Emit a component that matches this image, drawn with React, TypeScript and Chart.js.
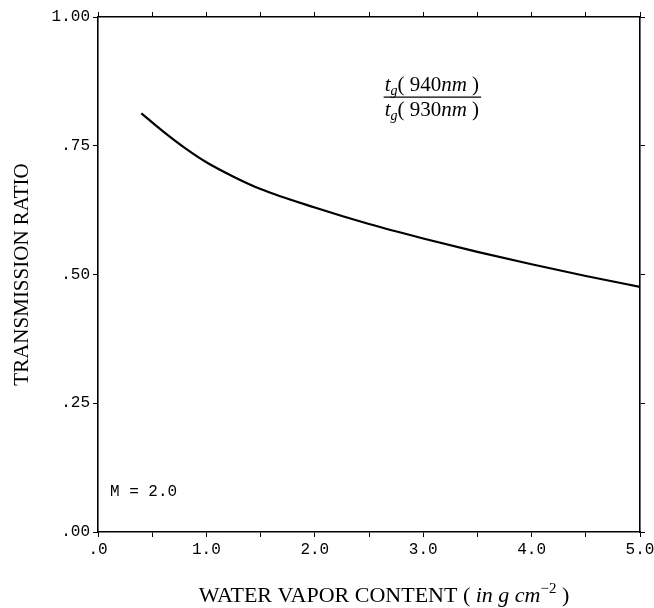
import React, { useEffect, useRef } from 'react';
import { Chart, registerables } from 'chart.js';

Chart.register(...registerables);

// Data
const waterVapor = [0.4, 0.6, 0.8, 1.0, 1.25, 1.5, 2.0, 2.5, 3.0, 3.5, 4.0, 4.5, 5.0];
const transmissionRatio = [0.813, 0.778, 0.746, 0.718, 0.69, 0.666, 0.63, 0.598, 0.57, 0.544, 0.52, 0.497, 0.476];

const xMin = 0;
const xMax = 5;
const xStep = 0.5;
const yMin = 0;
const yMax = 1;
const yStep = 0.25;

const yTitle = 'TRANSMISSION RATIO';
const airMassLabel = 'M = 2.0';

const SERIF = "'Liberation Serif', 'Times New Roman', serif";
const MONO = "'Liberation Mono', 'Courier New', monospace";

const fmtX = (v: number) => (v === 0 ? '.0' : v.toFixed(1));
const fmtY = (v: number) => (v === 1 ? '1.00' : v.toFixed(2).replace(/^0/, ''));

type Piece = { text: string; font: string; dy?: number };

function drawRich(ctx: CanvasRenderingContext2D, pieces: Piece[], cx: number, baseline: number) {
  let total = 0;
  for (const p of pieces) {
    ctx.font = p.font;
    total += ctx.measureText(p.text).width;
  }
  let x = cx - total / 2;
  for (const p of pieces) {
    ctx.font = p.font;
    ctx.fillText(p.text, x, baseline + (p.dy || 0));
    x += ctx.measureText(p.text).width;
  }
  return { left: cx - total / 2, right: cx + total / 2 };
}

const annotations = {
  id: 'annotations',
  afterDraw(chart: any) {
    const { ctx, chartArea, scales } = chart;
    const xs = scales.x;
    const ys = scales.y;
    ctx.save();
    ctx.fillStyle = '#000';
    ctx.strokeStyle = '#000';
    ctx.textAlign = 'left';
    ctx.textBaseline = 'alphabetic';

    // x-axis title with italic units
    const fN = `22px ${SERIF}`;
    const fI = `italic 22px ${SERIF}`;
    const fS = `15px ${SERIF}`;
    drawRich(
      ctx,
      [
        { text: 'WATER VAPOR CONTENT ( ', font: fN },
        { text: 'in g cm', font: fI },
        { text: '\u22122', font: fS, dy: -9 },
        { text: ' )', font: fN },
      ],
      (chartArea.left + chartArea.right) / 2 + 15,
      602
    );

    // ratio annotation
    const cx = xs.getPixelForValue(3.08);
    const nb = ys.getPixelForValue(0.856);
    const f = `21px ${SERIF}`;
    const fi = `italic 21px ${SERIF}`;
    const fsub = `italic 14px ${SERIF}`;
    const num = drawRich(
      ctx,
      [
        { text: 't', font: fi },
        { text: 'g', font: fsub, dy: 4 },
        { text: '( 940', font: f },
        { text: 'nm', font: fi },
        { text: ' )', font: f },
      ],
      cx,
      nb
    );
    drawRich(
      ctx,
      [
        { text: 't', font: fi },
        { text: 'g', font: fsub, dy: 4 },
        { text: '( 930', font: f },
        { text: 'nm', font: fi },
        { text: ' )', font: f },
      ],
      cx,
      nb + 25
    );
    ctx.lineWidth = 1.4;
    ctx.beginPath();
    ctx.moveTo(num.left - 1, nb + 6);
    ctx.lineTo(num.right + 2, nb + 6);
    ctx.stroke();

    // air mass label
    ctx.font = `16px ${MONO}`;
    ctx.textBaseline = 'middle';
    ctx.fillText(airMassLabel, xs.getPixelForValue(0.11), ys.getPixelForValue(0.078));
    ctx.restore();
  },
};

export default function App() {
  const ref = useRef<HTMLCanvasElement | null>(null);

  useEffect(() => {
    if (!ref.current) return;
    const gridOpts = {
      drawOnChartArea: false,
      drawTicks: true,
      tickLength: 5,
      color: '#000',
      lineWidth: 1,
    };
    const borderOpts = { display: true, color: '#000', width: 1.6 };
    const chart = new Chart(ref.current, {
      type: 'line',
      data: {
        datasets: [
          {
            data: waterVapor.map((x, i) => ({ x, y: transmissionRatio[i] })),
            borderColor: '#000',
            borderWidth: 2.2,
            pointRadius: 0,
            fill: false,
            cubicInterpolationMode: 'monotone',
          },
        ],
      },
      options: {
        responsive: false,
        animation: false,
        layout: { padding: { left: 10, top: 17, right: 14, bottom: 0 } },
        plugins: {
          legend: { display: false },
          tooltip: { enabled: false },
        },
        scales: {
          x: {
            type: 'linear',
            position: 'bottom',
            min: xMin,
            max: xMax,
            grid: gridOpts,
            border: borderOpts,
            ticks: {
              stepSize: xStep,
              autoSkip: false,
              maxRotation: 0,
              padding: 3,
              color: '#000',
              font: { family: MONO, size: 16 },
              callback: (v: any) => (Number.isInteger(Number(v)) ? fmtX(Number(v)) : ''),
            },
            afterFit: (s: any) => {
              s.height = 76;
              s.paddingLeft = 0;
              s.paddingRight = 0;
            },
          },
          x2: {
            type: 'linear',
            position: 'top',
            min: xMin,
            max: xMax,
            grid: gridOpts,
            border: borderOpts,
            ticks: { stepSize: xStep, display: false },
            afterFit: (s: any) => {
              s.height = 0;
              s.paddingLeft = 0;
              s.paddingRight = 0;
            },
          },
          y: {
            type: 'linear',
            position: 'left',
            min: yMin,
            max: yMax,
            grid: gridOpts,
            border: borderOpts,
            ticks: {
              stepSize: yStep,
              padding: 3,
              color: '#000',
              font: { family: MONO, size: 16 },
              callback: (v: any) => fmtY(Number(v)),
            },
            title: {
              display: true,
              text: yTitle,
              color: '#000',
              padding: 0,
              font: { family: SERIF, size: 21 },
            },
            afterFit: (s: any) => {
              s.width = 88;
            },
          },
          y2: {
            type: 'linear',
            position: 'right',
            min: yMin,
            max: yMax,
            grid: gridOpts,
            border: borderOpts,
            ticks: { stepSize: yStep, display: false },
            afterFit: (s: any) => {
              s.width = 0;
            },
          },
        },
      } as any,
      plugins: [annotations],
    });
    return () => chart.destroy();
  }, []);

  return (
    <div style={{ position: 'absolute', left: 0, top: 0, width: 654, height: 608, background: '#fff' }}>
      <canvas ref={ref} width={654} height={608} />
    </div>
  );
}
